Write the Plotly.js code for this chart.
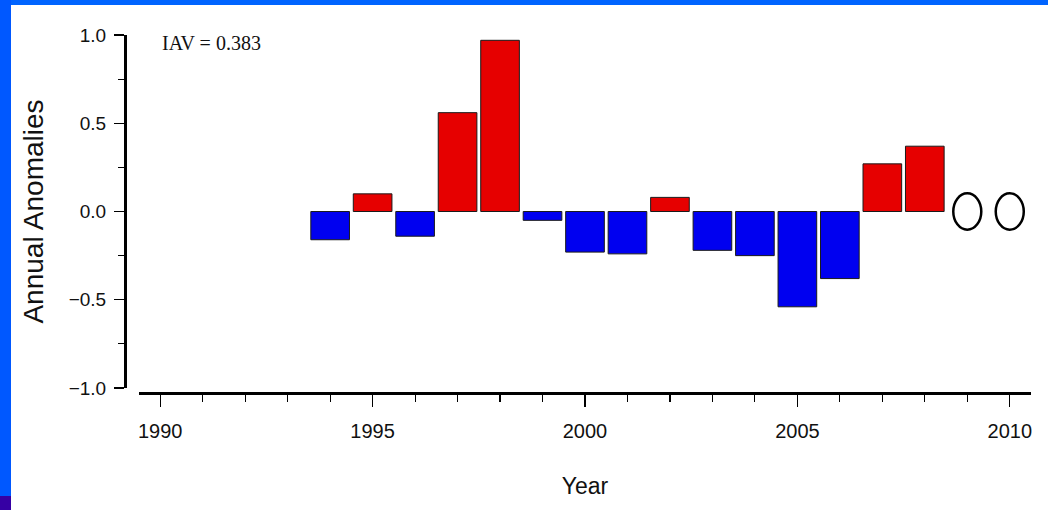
<!DOCTYPE html>
<html>
<head>
<meta charset="utf-8">
<script src="https://cdn.plot.ly/plotly-3.0.1.min.js"></script>
<style>
  html, body { margin: 0; padding: 0; background: #ffffff; }
  #wrap { position: relative; width: 1048px; height: 510px; overflow: hidden; }
  #chart { position: absolute; left: 0; top: 0; width: 1048px; height: 510px; }
  .band { position: absolute; pointer-events: none; }
  #bandTop { left: 0; top: 0; width: 1048px; height: 5px; background: #0064ff; }
  #bandLeft { left: 0; top: 0; width: 11px; height: 510px; background: #0058ff; }
  #cornerMark { left: 0; top: 496px; width: 11px; height: 14px; background: #3600a4; }
</style>
</head>
<body>
<div id="wrap">
  <div id="chart"></div>
  <div class="band" id="bandTop"></div>
  <div class="band" id="bandLeft"></div>
  <div class="band" id="cornerMark"></div>
</div>
<script>
// Annual anomaly per year (1994-2008); 2009 and 2010 have no value yet.
const years = [1994, 1995, 1996, 1997, 1998, 1999, 2000, 2001, 2002, 2003, 2004, 2005, 2006, 2007, 2008];
const anomalies = [-0.16, 0.10, -0.14, 0.56, 0.97, -0.05, -0.23, -0.24, 0.08, -0.22, -0.25, -0.54, -0.38, 0.27, 0.37];
const pendingYears = [2009, 2010];
const yTickVals = [-1.0, -0.5, 0.0, 0.5, 1.0];
const xTickVals = [1990, 1995, 2000, 2005, 2010];
const iavLabel = 'IAV = 0.383';

const RED = '#e60000';
const BLUE = '#0000f0';

const barColors = anomalies.map(v => (v >= 0 ? RED : BLUE));

const bars = {
  type: 'bar',
  x: years,
  y: anomalies,
  width: 0.91,
  marker: { color: barColors, line: { color: '#1a1a1a', width: 1 } },
  hoverinfo: 'x+y',
  showlegend: false
};

// open ellipses marking the years still to come, centred on the zero line
const pendingShapes = pendingYears.map(yr => ({
  type: 'circle',
  xref: 'x', yref: 'y',
  x0: yr - 0.33, x1: yr + 0.33,
  y0: -0.103, y1: 0.103,
  line: { color: '#000000', width: 2.5 },
  fillcolor: 'rgba(0,0,0,0)'
}));

const W = 1048, H = 510;
const mL = 125, mR = 17, mT = 35, mB = 117;
const plotW = W - mL - mR, plotH = H - mT - mB;

const layout = {
  width: W, height: H,
  margin: { l: mL, r: mR, t: mT, b: mB, pad: 0 },
  paper_bgcolor: '#ffffff',
  plot_bgcolor: '#ffffff',
  font: { family: 'Liberation Sans, Arial, sans-serif', color: '#111111' },
  bargap: 0,
  xaxis: {
    domain: [14 / plotW, 1],
    anchor: 'free', position: 0,
    range: [1989.5, 2010.5],
    tickvals: xTickVals,
    ticktext: xTickVals.map(String),
    showline: true, linecolor: '#000000', linewidth: 3,
    ticks: 'outside', ticklen: 12, tickwidth: 1.3, tickcolor: '#000000',
    minor: { dtick: 1, tick0: 1990, ticks: 'outside', ticklen: 7, tickwidth: 1.1, tickcolor: '#000000', showgrid: false },
    showgrid: false, zeroline: false,
    ticklabelstandoff: 7,
    tickfont: { size: 20, color: '#111111' },
    title: { text: 'Year', font: { size: 23, color: '#111111' }, standoff: 36 }
  },
  yaxis: {
    domain: [5 / plotH, 1],
    anchor: 'free', position: 0,
    range: [-1.0, 1.0],
    tickvals: yTickVals,
    tickformat: '.1f',
    showline: true, linecolor: '#000000', linewidth: 3,
    ticks: 'outside', ticklen: 10, tickwidth: 1.3, tickcolor: '#000000',
    minor: { dtick: 0.25, tick0: 0, ticks: 'outside', ticklen: 6, tickwidth: 1.1, tickcolor: '#000000', showgrid: false },
    showgrid: false, zeroline: false,
    ticklabelstandoff: 4,
    tickfont: { size: 19, color: '#111111' },
    title: { text: 'Annual Anomalies', font: { size: 28, color: '#111111' }, standoff: 15 }
  },
  shapes: pendingShapes,
  annotations: [{
    xref: 'x', yref: 'paper',
    x: xTickVals[0], y: 1.015,
    xanchor: 'left', yanchor: 'top',
    text: iavLabel,
    showarrow: false,
    font: { family: 'Liberation Serif, Times New Roman, serif', size: 20, color: '#111111' }
  }]
};

Plotly.newPlot('chart', [bars], layout, { displayModeBar: false, staticPlot: true });
</script>
</body>
</html>
